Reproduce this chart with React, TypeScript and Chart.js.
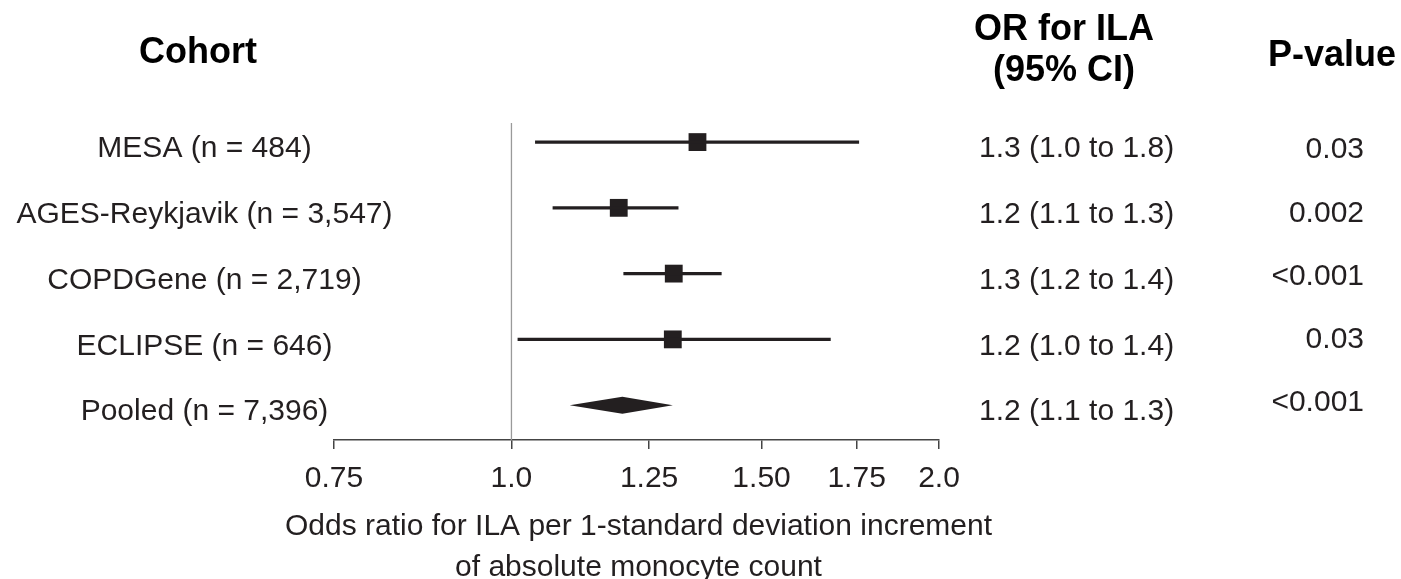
import React, { useEffect, useRef } from "react";
import { Chart, registerables } from "chart.js";

Chart.register(...registerables);

// ---------- data ----------
const COHORTS = [
  "MESA (n = 484)",
  "AGES-Reykjavik (n = 3,547)",
  "COPDGene (n = 2,719)",
  "ECLIPSE (n = 646)",
  "Pooled (n = 7,396)",
];
const OR_POINT = [1.352, 1.19, 1.301, 1.299, 1.197];
const CI_LOW = [1.039, 1.069, 1.199, 1.01, 1.099];
const CI_HIGH = [1.757, 1.311, 1.406, 1.678, 1.299];
const OR_TEXT = [
  "1.3 (1.0 to 1.8)",
  "1.2 (1.1 to 1.3)",
  "1.3 (1.2 to 1.4)",
  "1.2 (1.0 to 1.4)",
  "1.2 (1.1 to 1.3)",
];
const P_TEXT = ["0.03", "0.002", "<0.001", "0.03", "<0.001"];
const X_TICKS = [0.75, 1.0, 1.25, 1.5, 1.75, 2.0];
const X_TICK_LABELS = ["0.75", "1.0", "1.25", "1.50", "1.75", "2.0"];
const X_TITLE = [
  "Odds ratio for ILA per 1-standard deviation increment",
  "of absolute monocyte count",
];
const HEAD_COHORT = "Cohort";
const HEAD_OR = ["OR for ILA", "(95% CI)"];
const HEAD_P = "P-value";
const POOLED_INDEX = 4;

// ---------- styles ----------
const FONT = '"Liberation Sans", Arial, Helvetica, sans-serif';
const INK = "#231f20";
const AXIS = "#444444";
const REF = "#9a9a9a";
const Y_MIN = -0.29;
const Y_MAX = 4.53;

const forestPlugin = {
  id: "forestDecor",
  afterDatasetsDraw(chart: any) {
    const ctx = chart.ctx;
    const xs = chart.scales.x;
    const ys = chart.scales.y;
    // pooled diamond
    const py = ys.getPixelForValue(POOLED_INDEX);
    const xl = xs.getPixelForValue(CI_LOW[POOLED_INDEX]);
    const xm = xs.getPixelForValue(OR_POINT[POOLED_INDEX]);
    const xh = xs.getPixelForValue(CI_HIGH[POOLED_INDEX]);
    ctx.save();
    ctx.fillStyle = INK;
    ctx.beginPath();
    ctx.moveTo(xl, py);
    ctx.lineTo(xm, py - 8.5);
    ctx.lineTo(xh, py);
    ctx.lineTo(xm, py + 8.5);
    ctx.closePath();
    ctx.fill();
    ctx.restore();
  },
  afterDraw(chart: any) {
    const ctx = chart.ctx;
    const ys = chart.scales.y;
    const xs = chart.scales.x;
    ctx.save();
    ctx.fillStyle = INK;
    ctx.textBaseline = "middle";
    ctx.font = `30px ${FONT}`;
    COHORTS.forEach((label, i) => {
      const y = ys.getPixelForValue(i);
      ctx.textAlign = "center";
      ctx.fillText(label, 204.5, y + 7);
      ctx.textAlign = "left";
      ctx.fillText(OR_TEXT[i], 979, y + 7);
      ctx.textAlign = "right";
      ctx.fillText(P_TEXT[i], 1364, y + 8 - 2.5 * i);
    });
    // x-axis title (two lines, centred under the axis)
    ctx.textAlign = "center";
    const cx = (xs.left + xs.right) / 2 + 2;
    ctx.fillText(X_TITLE[0], cx, 527);
    ctx.fillText(X_TITLE[1], cx, 568);
    // column headers
    ctx.fillStyle = "#000";
    ctx.font = `bold 36px ${FONT}`;
    ctx.fillText(HEAD_COHORT, 198, 53);
    ctx.fillText(HEAD_OR[0], 1064, 30);
    ctx.fillText(HEAD_OR[1], 1064, 71);
    ctx.fillText(HEAD_P, 1332, 56);
    ctx.restore();
  },
};

export default function App() {
  const ref = useRef<HTMLCanvasElement | null>(null);

  useEffect(() => {
    if (!ref.current) return;
    Chart.defaults.font.family = FONT;
    const datasets: any[] = [];
    // reference line at OR = 1
    datasets.push({
      type: "line",
      data: [
        { x: 1, y: Y_MIN },
        { x: 1, y: Y_MAX },
      ],
      borderColor: REF,
      borderWidth: 1.3,
      pointRadius: 0,
    });
    // CI lines for the individual cohorts
    COHORTS.forEach((_, i) => {
      if (i === POOLED_INDEX) return;
      datasets.push({
        type: "line",
        data: [
          { x: CI_LOW[i], y: i },
          { x: CI_HIGH[i], y: i },
        ],
        borderColor: INK,
        borderWidth: 3.3,
        pointRadius: 0,
      });
    });
    // point estimates
    datasets.push({
      type: "scatter",
      data: OR_POINT.map((v, i) => ({ x: v, y: i })).filter(
        (_, i) => i !== POOLED_INDEX
      ),
      pointStyle: "rect",
      pointRadius: 12.6,
      backgroundColor: INK,
      borderWidth: 0,
    });

    const chart = new Chart(ref.current, {
      type: "scatter",
      data: { datasets },
      plugins: [forestPlugin],
      options: {
        animation: false,
        responsive: false,
        devicePixelRatio: 1,
        layout: { padding: { left: 334, right: 462, top: 123, bottom: 0 } },
        plugins: { legend: { display: false }, tooltip: { enabled: false } },
        events: [],
        scales: {
          x: {
            type: "logarithmic",
            min: 0.75,
            max: 2.0,
            afterBuildTicks: (scale: any) => {
              scale.ticks = X_TICKS.map((v) => ({ value: v }));
            },
            afterFit: (scale: any) => {
              scale.height = 139;
            },
            ticks: {
              autoSkip: false,
              maxRotation: 0,
              padding: 12,
              color: INK,
              font: { size: 30 },
              callback: (_v: any, idx: number) => X_TICK_LABELS[idx],
            },
            grid: {
              display: true,
              drawOnChartArea: false,
              drawTicks: true,
              tickLength: 9,
              color: AXIS,
              lineWidth: 1.5,
            },
            border: { display: true, color: AXIS, width: 1.5 },
            title: { display: false },
          },
          y: {
            type: "linear",
            display: false,
            min: Y_MIN,
            max: Y_MAX,
            reverse: true,
          },
        },
      } as any,
    });
    return () => chart.destroy();
  }, []);

  return (
    <div
      style={{
        position: "fixed",
        left: 0,
        top: 0,
        width: 1401,
        height: 579,
        background: "#fff",
      }}
    >
      <canvas ref={ref} width={1401} height={579} />
    </div>
  );
}
